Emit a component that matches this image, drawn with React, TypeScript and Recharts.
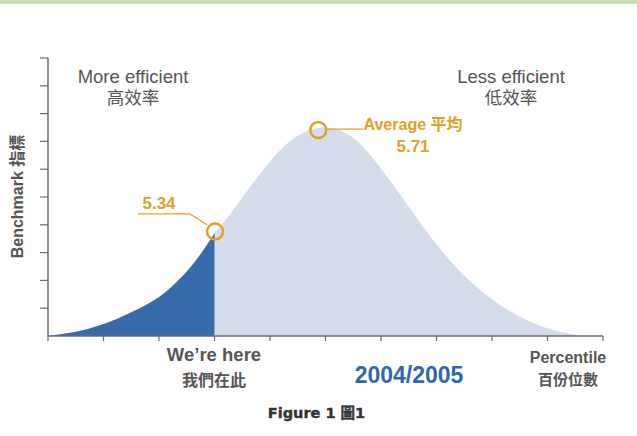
import React from "react";
import {
  ComposedChart,
  Area,
  XAxis,
  YAxis,
  ReferenceDot,
  ReferenceLine,
} from "recharts";

// ---- data ----
const percentiles = [
  0, 2.5, 5, 7.5, 10, 12.5, 15, 17.5, 20, 22.5, 25, 27.5, 30, 32.5, 35, 37.5, 40,
  42.5, 45, 47.5, 50, 52.5, 55, 57.5, 60, 62.5, 65, 67.5, 70, 72.5, 75, 77.5, 80,
  82.5, 85, 87.5, 90, 92.5, 95, 97.5, 100,
];
const benchmark = [
  0, 0.07, 0.15, 0.27, 0.43, 0.62, 0.85, 1.1, 1.4, 1.82, 2.32, 2.95, 3.7, 4.3,
  4.98, 5.65, 6.28, 6.82, 7.2, 7.43, 7.5, 7.4, 7.12, 6.65, 6.02, 5.35, 4.65, 3.95,
  3.3, 2.7, 2.17, 1.72, 1.32, 0.98, 0.7, 0.46, 0.28, 0.14, 0.04, 0, 0,
];
const herePercentile = 30;
const xTicks = [0, 10, 20, 30, 40, 50, 60, 70, 80, 90, 100];
const yTicks = [1, 2, 3, 4, 5, 6, 7, 8, 9, 10];
const herePoint = { p: 30.1, v: 3.76 };
const avgPoint = { p: 48.7, v: 7.41 };
const hereLeader = [
  { x: 16.2, y: 4.39 },
  { x: 25.6, y: 4.39 },
  { x: 28.7, y: 3.99 },
];
const avgLeader = [
  { x: 50.3, y: 7.44 },
  { x: 56.8, y: 7.44 },
];
const hereValueLabel = "5.34";
const avgValueLabel = "5.71";

const data = percentiles.map((p, i) => ({
  p,
  all: benchmark[i],
  here: p <= herePercentile ? benchmark[i] : null,
}));

const FONT = '"Liberation Sans", Arial, "Noto Sans CJK TC", sans-serif';
const GRAY = "#555555";
const ORANGE = "#e0a126";
const BLUE = "#376bab";
const LIGHT = "#d5dcec";

const EmptyTick = () => <g />;

export default function App() {
  return (
    <div
      style={{
        position: "absolute",
        left: 0,
        top: 0,
        width: 637,
        height: 436,
        background: "#ffffff",
        fontFamily: FONT,
      }}
    >
      <div
        style={{
          position: "absolute",
          left: 0,
          top: 0,
          width: 637,
          height: 4,
          background: "#c9ddb5",
        }}
      />
      <div style={{ position: "absolute", left: 0, top: 0 }}>
        <ComposedChart
          width={637}
          height={436}
          data={data}
          margin={{ top: 58, right: 34, bottom: 70, left: 0 }}
        >
          <XAxis
            dataKey="p"
            type="number"
            domain={[0, 100]}
            ticks={xTicks}
            tick={EmptyTick}
            tickSize={5}
            height={30}
            axisLine={{ stroke: "#6b6b6b", strokeWidth: 1.5 }}
            tickLine={{ stroke: "#6b6b6b", strokeWidth: 1.2 }}
          />
          <YAxis
            type="number"
            domain={[0, 10]}
            ticks={yTicks}
            tick={EmptyTick}
            tickSize={8}
            width={48}
            axisLine={{ stroke: "#6b6b6b", strokeWidth: 1.5 }}
            tickLine={{ stroke: "#6b6b6b", strokeWidth: 1.2 }}
          />
          <Area
            dataKey="all"
            type="monotone"
            stroke="none"
            fill={LIGHT}
            fillOpacity={1}
            isAnimationActive={false}
            dot={false}
            activeDot={false}
          />
          <Area
            dataKey="here"
            type="monotone"
            stroke="none"
            fill={BLUE}
            fillOpacity={1}
            isAnimationActive={false}
            dot={false}
            activeDot={false}
          />
          <ReferenceLine
            segment={[hereLeader[0], hereLeader[1]]}
            stroke={ORANGE}
            strokeWidth={1.3}
            ifOverflow="visible"
          />
          <ReferenceLine
            segment={[hereLeader[1], hereLeader[2]]}
            stroke={ORANGE}
            strokeWidth={1.3}
            ifOverflow="visible"
          />
          <ReferenceLine
            segment={[avgLeader[0], avgLeader[1]]}
            stroke={ORANGE}
            strokeWidth={1.3}
            ifOverflow="visible"
          />
          <ReferenceDot
            x={herePoint.p}
            y={herePoint.v}
            r={8}
            fill="none"
            stroke={ORANGE}
            strokeWidth={2.5}
            ifOverflow="visible"
          />
          <ReferenceDot
            x={avgPoint.p}
            y={avgPoint.v}
            r={8}
            fill="none"
            stroke={ORANGE}
            strokeWidth={2.5}
            ifOverflow="visible"
          />
        </ComposedChart>
      </div>
      <svg
        width={637}
        height={436}
        style={{ position: "absolute", left: 0, top: 0, pointerEvents: "none" }}
        fontFamily={FONT}
      >
        <text x={133} y={82.5} textAnchor="middle" fontSize={18.5} fill={GRAY}>
          More efficient
        </text>
        <text x={133} y={104} textAnchor="middle" fontSize={17.5} fill={GRAY}>
          高效率
        </text>
        <text x={511} y={82.5} textAnchor="middle" fontSize={18.5} fill={GRAY}>
          Less efficient
        </text>
        <text x={511} y={104} textAnchor="middle" fontSize={17.5} fill={GRAY}>
          低效率
        </text>
        <text x={363.5} y={129.5} fontSize={16} fontWeight="bold" fill={ORANGE}>
          Average 平均
        </text>
        <text x={413} y={151.5} textAnchor="middle" fontSize={17} fontWeight="bold" fill={ORANGE}>
          {avgValueLabel}
        </text>
        <text x={159} y={208.5} textAnchor="middle" fontSize={17} fontWeight="bold" fill={ORANGE}>
          {hereValueLabel}
        </text>
        <text
          x={23}
          y={196.5}
          transform="rotate(-90 23 196.5)"
          textAnchor="middle"
          fontSize={16}
          fontWeight="bold"
          fill={GRAY}
        >
          Benchmark 指標
        </text>
        <text x={214} y={361} textAnchor="middle" fontSize={18.5} fontWeight="bold" fill={GRAY}>
          We’re here
        </text>
        <text x={214} y={386} textAnchor="middle" fontSize={16} fontWeight="bold" fill={GRAY}>
          我們在此
        </text>
        <text x={409} y={383} textAnchor="middle" fontSize={23} fontWeight="bold" fill="#2f66ad">
          2004/2005
        </text>
        <text x={568} y={363} textAnchor="middle" fontSize={16} fontWeight="bold" fill={GRAY}>
          Percentile
        </text>
        <text x={568} y={385} textAnchor="middle" fontSize={15} fontWeight="bold" fill={GRAY}>
          百份位數
        </text>
        <text
          x={316.5}
          y={418}
          textAnchor="middle"
          fontSize={14.5}
          fontWeight="bold"
          fill="#333333"
          fontFamily='"DejaVu Sans", "Noto Sans CJK TC", sans-serif'
          stroke="#333333"
          strokeWidth={0.4}
        >
          Figure 1 圖1
        </text>
      </svg>
    </div>
  );
}
